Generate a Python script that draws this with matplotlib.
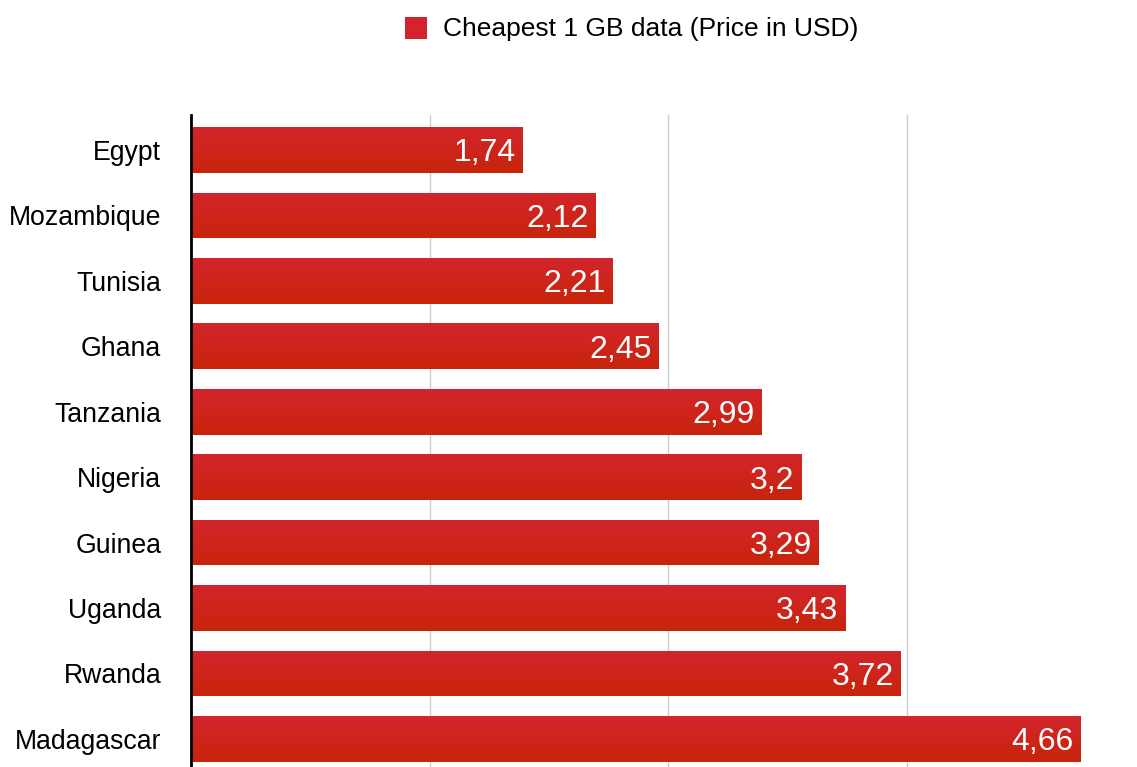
import numpy as np
from matplotlib import pyplot as plt
from matplotlib.colors import LinearSegmentedColormap
from matplotlib.patches import Rectangle

countries = ["Egypt", "Mozambique", "Tunisia", "Ghana", "Tanzania",
             "Nigeria", "Guinea", "Uganda", "Rwanda", "Madagascar"]
prices = [1.74, 2.12, 2.21, 2.45, 2.99, 3.2, 3.29, 3.43, 3.72, 4.66]
price_labels = ["1,74", "2,12", "2,21", "2,45", "2,99",
                "3,2", "3,29", "3,43", "3,72", "4,66"]
series_name = "Cheapest 1 GB data (Price in USD)"

plt.rcParams["font.family"] = ["Liberation Sans", "DejaVu Sans"]

TOP_RED = "#d3242c"
BOTTOM_RED = "#c8250b"
grad = LinearSegmentedColormap.from_list("bar", [TOP_RED, BOTTOM_RED])

W, H = 1137, 767
fig = plt.figure(figsize=(W / 100, H / 100), dpi=100)
ax = fig.add_axes([191 / W, 0, 1 - 191 / W, 1 - 115 / H])

y = np.arange(len(countries))
bars = ax.barh(y, prices, height=0.70, color="none", edgecolor="none", zorder=3)

# vertical gradient inside each bar
gradient = np.linspace(0, 1, 256).reshape(-1, 1)
for b in bars:
    x0, y0 = b.get_x(), b.get_y()
    w, h = b.get_width(), b.get_height()
    im = ax.imshow(gradient, cmap=grad, aspect="auto",
                   extent=[x0, x0 + w, y0 + h, y0], zorder=3,
                   interpolation="bilinear")
    im.set_clip_path(b)

for i, (v, lab) in enumerate(zip(prices, price_labels)):
    ax.annotate(lab, xy=(v, i), xytext=(-5, -2.5), textcoords="offset points",
                ha="right", va="center", color="white", fontsize=23, zorder=4)

ax.set_xlim(0, (W - 191) / 190.8)
ax.set_ylim(len(countries) - 1 + 0.43, -0.535)
ax.set_xticks([1.25, 2.5, 3.75])
ax.xaxis.grid(True, color="#cccccc", linewidth=1)
ax.set_axisbelow(True)
ax.tick_params(axis="x", length=0, labelbottom=False)
ax.set_yticks(y)
ax.set_yticklabels(countries, fontsize=19.2)
ax.tick_params(axis="y", length=0, pad=21.5)
for s in ["top", "right", "bottom"]:
    ax.spines[s].set_visible(False)
ax.spines["left"].set_linewidth(2)
ax.spines["left"].set_color("black")
ax.spines["left"].set_zorder(5)

# legend
fig.patches.append(Rectangle((405 / W, 1 - 39 / H), 22 / W, 22 / H,
                             transform=fig.transFigure, facecolor=TOP_RED,
                             edgecolor="none"))
fig.text(443 / W, 1 - 29 / H, series_name, fontsize=19, va="center", ha="left")

fig.savefig("out.png", dpi=100)
